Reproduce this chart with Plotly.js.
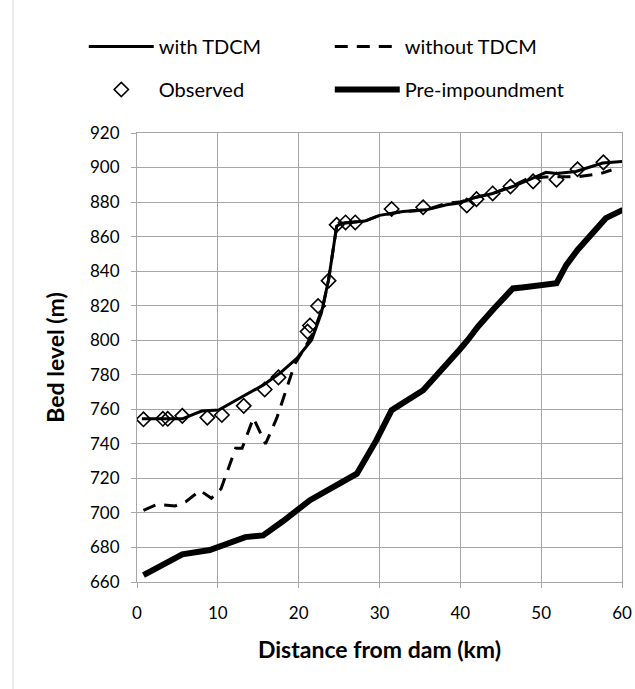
<!DOCTYPE html>
<html>
<head>
<meta charset="utf-8">
<script src="https://cdn.plot.ly/plotly-3.0.1.min.js"></script>
<style>html,body{margin:0;padding:0;background:#fff;}#chart{width:635px;height:689px;}</style>
</head>
<body>
<div id="chart"></div>
<script>
// ---- data (distance km, bed level m) ----
const withX = [0.6, 5.6, 8.0, 10.1, 12.3, 15.6, 17.7, 19.8, 21.6, 22.8, 23.7, 24.7, 25.3, 28.2, 30.0, 32.9, 35.8, 38.3, 39.9, 41.6, 44.0, 46.5, 49.4, 50.6, 51.9, 54.3, 57.6, 60.1];
const withY = [754.5, 754.5, 759, 759.6, 765.4, 774, 781, 789.6, 800.2, 815.6, 835, 866, 867.8, 869, 872.3, 874.5, 875.5, 878.4, 879.5, 882.3, 885, 889, 894.8, 897.2, 896.5, 897.7, 902.6, 903.5];

const withoutX = [0.8, 2.5, 4.7, 6.0, 7.8, 9.2, 10.4, 12.2, 13.0, 14.4, 15.9, 17.3, 19.5, 20.5, 21.8, 23.0, 23.7, 24.7, 25.3, 28.2, 30.0, 32.9, 35.8, 38.3, 39.9, 42.0, 44.0, 46.5, 48.2, 50.5, 53.5, 54.7, 57.3, 58.7];
const withoutY = [701.5, 705, 704, 706.4, 713, 708.5, 714, 737.5, 737.4, 755, 740, 755, 786, 794, 804, 819.5, 835, 866, 867.8, 869, 872.3, 874.5, 875.5, 879.4, 880, 882.9, 885, 889.5, 893.3, 894.5, 894.5, 894.8, 896.4, 898.6];

const obsX = [0.8, 3.2, 3.8, 5.6, 8.7, 10.5, 13.2, 15.8, 17.5, 21.1, 21.4, 22.4, 23.7, 24.7, 25.8, 27.0, 31.5, 35.4, 40.8, 42.0, 44.0, 46.2, 49.0, 51.9, 54.5, 57.7];
const obsY = [754.2, 754.5, 754.5, 756.2, 755.2, 756.7, 762, 771.5, 778.5, 805, 808.5, 819.8, 834.5, 866.8, 868.2, 868.2, 876, 877, 878, 881.7, 885, 889, 892, 893, 899, 903];

const preX = [0.8, 5.6, 9.0, 11.0, 13.4, 15.6, 18.0, 21.4, 24.2, 27.2, 29.6, 31.5, 35.4, 37.2, 39.9, 40.9, 42.2, 44.2, 46.5, 47.9, 51.9, 53.1, 54.5, 58.0, 60.1];
const preY = [664, 676, 678.5, 682, 686, 687, 695, 707.4, 715, 722.7, 742, 759.5, 771, 780, 794.5, 800, 808, 818.5, 830, 830.7, 833, 843.5, 852.3, 870.7, 875.5];

const xTicks = [0, 10, 20, 30, 40, 50, 60];
const yTicks = [660, 680, 700, 720, 740, 760, 780, 800, 820, 840, 860, 880, 900, 920];

const FONT = 'Lato, "Open Sans", sans-serif';
const gridC = '#a6a6a6';

const traces = [
  {x: withX, y: withY, name: 'with TDCM', mode: 'lines', line: {color: '#000', width: 3},
   legend: 'legend', legendgroup: 'a'},
  {x: obsX, y: obsY, name: 'Observed', mode: 'markers',
   marker: {symbol: 'diamond-open', size: 11, color: '#000', line: {width: 1.6, color: '#000'}},
   legend: 'legend', legendgroup: 'b'},
  {x: withoutX, y: withoutY, name: 'without TDCM', mode: 'lines', line: {color: '#000', width: 3, dash: '13px,9px'},
   legend: 'legend2', legendgroup: 'c'},
  {x: preX, y: preY, name: 'Pre-impoundment', mode: 'lines', line: {color: '#000', width: 6},
   legend: 'legend2', legendgroup: 'd'}
];

const legendCommon = {
  orientation: 'v', yanchor: 'top', xanchor: 'left', y: 1.236,
  font: {family: FONT, size: 20, color: '#000'}, bgcolor: 'rgba(0,0,0,0)',
  itemwidth: 65, tracegroupgap: 14, traceorder: 'grouped'
};

const layout = {
  width: 635, height: 689,
  margin: {l: 137, r: 13, t: 133, b: 107},
  paper_bgcolor: '#fff', plot_bgcolor: '#fff',
  font: {family: FONT, size: 17, color: '#000'},
  showlegend: true,
  legend: Object.assign({}, legendCommon, {x: -0.1097}),
  legend2: Object.assign({}, legendCommon, {x: 0.3975}),
  xaxis: {
    range: [0, 60], tickvals: xTicks, ticktext: xTicks.map(String),
    showgrid: true, gridcolor: gridC, gridwidth: 1,
    showline: true, linecolor: gridC, linewidth: 1, mirror: true,
    ticks: 'outside', ticklen: 5, tickcolor: gridC, ticklabelstandoff: 11,
    zeroline: false, tickfont: {family: FONT, size: 17, color: '#000'},
    title: {text: '<b>Distance from dam (km)</b>', font: {family: FONT, size: 23, color: '#000'}, standoff: 19}
  },
  yaxis: {
    range: [660, 920], tickvals: yTicks, ticktext: yTicks.map(String),
    showgrid: true, gridcolor: gridC, gridwidth: 1,
    showline: true, linecolor: gridC, linewidth: 1, mirror: true,
    ticks: 'outside', ticklen: 5, tickcolor: gridC, ticklabelstandoff: 8,
    zeroline: false, tickfont: {family: FONT, size: 17, color: '#000'},
    title: {text: '<b>Bed level (m)</b>', font: {family: FONT, size: 23, color: '#000'}, standoff: 18}
  },
  shapes: [
    {type: 'line', xref: 'paper', yref: 'paper', x0: (13 - 137) / 485, x1: (13 - 137) / 485,
     y0: -107 / 449, y1: 1 + 133 / 449, line: {color: '#d9d9d9', width: 1}}
  ]
};

Plotly.newPlot('chart', traces, layout, {displayModeBar: false, staticPlot: true});
</script>
</body>
</html>
